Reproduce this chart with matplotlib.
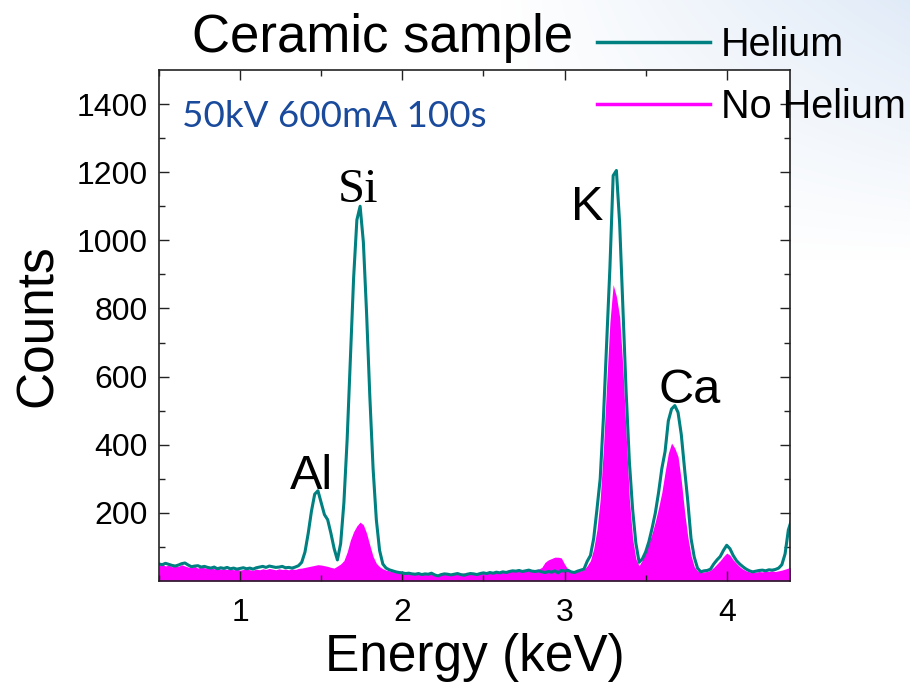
import numpy as np
import matplotlib.pyplot as plt
from matplotlib.lines import Line2D

plt.rcParams['font.family'] = ['Liberation Sans', 'DejaVu Sans']

# detector channels, 20 eV wide
energy = np.round(np.arange(0.50, 4.401, 0.02), 2)

helium = [
    50, 48, 52, 49, 46, 44, 47, 51, 53, 47,
    42, 44, 45, 41, 43, 40, 38, 41, 36, 39,
    37, 40, 36, 38, 35, 37, 39, 36, 38, 35,
    39, 41, 43, 40, 44, 42, 40, 41, 43, 39,
    40, 38, 41, 45, 55, 85, 140, 205, 255, 265,
    230, 195, 180, 140, 95, 62, 110, 230, 415, 650,
    890, 1060, 1100, 995, 785, 540, 330, 180, 90, 50,
    38, 33, 30, 27, 25, 24, 22, 23, 21, 20,
    22, 19, 21, 20, 23, 18, 15, 19, 21, 20,
    18, 20, 22, 19, 17, 20, 22, 21, 19, 22,
    24, 22, 25, 23, 26, 24, 27, 25, 28, 30,
    29, 31, 28, 30, 32, 29, 28, 30, 27, 25,
    28, 26, 30, 24, 31, 29, 32, 27, 25, 29,
    32, 35, 58, 75, 125, 210, 300, 480, 700, 920,
    1190, 1205, 1050, 800, 555, 350, 210, 111, 55, 65,
    85, 115, 155, 200, 260, 330, 380, 470, 505, 515,
    495, 430, 330, 235, 125, 70, 38, 27, 30, 31,
    35, 50, 62, 72, 90, 105, 95, 75, 60, 50,
    42, 35, 30, 27, 29, 31, 32, 30, 33, 32,
    34, 38, 48, 80, 150, 180,
]

no_helium = [
    45, 50, 44, 47, 42, 45, 43, 48, 44, 41,
    40, 43, 38, 42, 39, 37, 40, 36, 38, 35,
    36, 34, 37, 33, 35, 32, 34, 36, 33, 32,
    35, 33, 36, 34, 37, 35, 33, 36, 34, 35,
    33, 36, 34, 37, 38, 40, 42, 44, 46, 48,
    47, 45, 43, 40, 38, 44, 50, 60, 85, 120,
    145, 162, 173, 165, 140, 105, 72, 52, 42, 36,
    32, 30, 28, 26, 25, 27, 24, 26, 23, 25,
    22, 24, 21, 23, 20, 22, 19, 21, 23, 22,
    21, 23, 20, 22, 24, 21, 23, 22, 24, 23,
    25, 23, 26, 24, 27, 25, 28, 26, 29, 31,
    30, 32, 29, 31, 33, 30, 32, 35, 40, 55,
    62, 66, 70, 70, 68, 50, 35, 30, 28, 31,
    30, 33, 45, 60, 95, 150, 240, 390, 580, 760,
    870, 835, 775, 625, 430, 240, 125, 65, 45, 62,
    90, 112, 140, 175, 215, 260, 320, 375, 405, 390,
    365, 295, 205, 130, 75, 42, 30, 26, 27, 28,
    32, 40, 50, 60, 72, 82, 76, 62, 52, 42,
    35, 30, 27, 25, 26, 28, 27, 29, 28, 30,
    28, 30, 32, 35, 38, 40,
]

peak_names = ['Al', 'Si', 'K', 'Ca']
peak_energy = [1.44, 1.73, 3.14, 3.77]
peak_height = [269, 1112, 1059, 524]

teal = '#008080'
magenta = '#ff00ff'

fig = plt.figure(figsize=(9.1, 6.86), dpi=100)

# faint blue wash in the upper right corner
h, w = 686, 910
yy, xx = np.mgrid[0:h, 0:w]
wt = np.clip((xx / w - 0.55) / 0.45, 0, 1) * np.clip(1 - yy / 260, 0, 1)
bg = np.ones((h, w, 3))
tint = np.array([0.88, 0.92, 0.97])
bg = bg * (1 - wt[..., None]) + tint * wt[..., None]
bg_ax = fig.add_axes([0, 0, 1, 1], zorder=-1)
bg_ax.imshow(bg, aspect='auto')
bg_ax.axis('off')

ax = fig.add_axes([0.1747, 0.153, 0.6934, 0.745])
ax.fill_between(energy, 0, no_helium, color=magenta, lw=0)
ax.plot(energy, helium, color=teal, lw=2.2)

ax.set_xlim(0.50, 4.39)
ax.set_ylim(0, 1500)
ax.set_xticks([1, 2, 3, 4])
ax.set_xticks(np.arange(0.5, 4.4, 0.5), minor=True)
ax.set_yticks(range(200, 1401, 200))
ax.set_yticks(range(100, 1500, 100), minor=True)
ax.tick_params(which='both', direction='in', top=True, right=True,
               labelsize=23, width=1, colors='#222222', labelcolor='black')
ax.tick_params(which='major', length=7)
ax.tick_params(axis='y', which='major', pad=8)
ax.tick_params(axis='x', which='major', pad=12)
ax.tick_params(which='minor', length=4)
for s in ax.spines.values():
    s.set_linewidth(1.2)
    s.set_color('#222222')

ax.set_xlabel('Energy (keV)', fontsize=37, labelpad=4)
ax.set_ylabel('Counts', fontsize=37, labelpad=10)

for name, e, c in zip(peak_names, peak_energy, peak_height):
    fam = 'Liberation Serif' if name == 'Si' else 'Liberation Sans'
    ax.text(e, c, name, fontsize=35, ha='center', va='baseline', family=fam)

ax.text(0.643, 1334, '50kV 600mA 100s', color='#1a4a9c', fontsize=26.5,
        family='Lato', va='baseline')

fig.text(0.42, 0.924, 'Ceramic sample', fontsize=38, ha='center', va='baseline')

handles = [Line2D([], [], color=teal, lw=2.5), Line2D([], [], color=magenta, lw=2.5)]
fig.legend(handles, ['Helium', 'No Helium'], loc='upper left',
           bbox_to_anchor=(0.656, 0.962), frameon=False, fontsize=28.5,
           handlelength=2.85, handletextpad=0.28, labelspacing=0.6,
           borderpad=0, borderaxespad=0)

fig.savefig('out.png', dpi=100)
